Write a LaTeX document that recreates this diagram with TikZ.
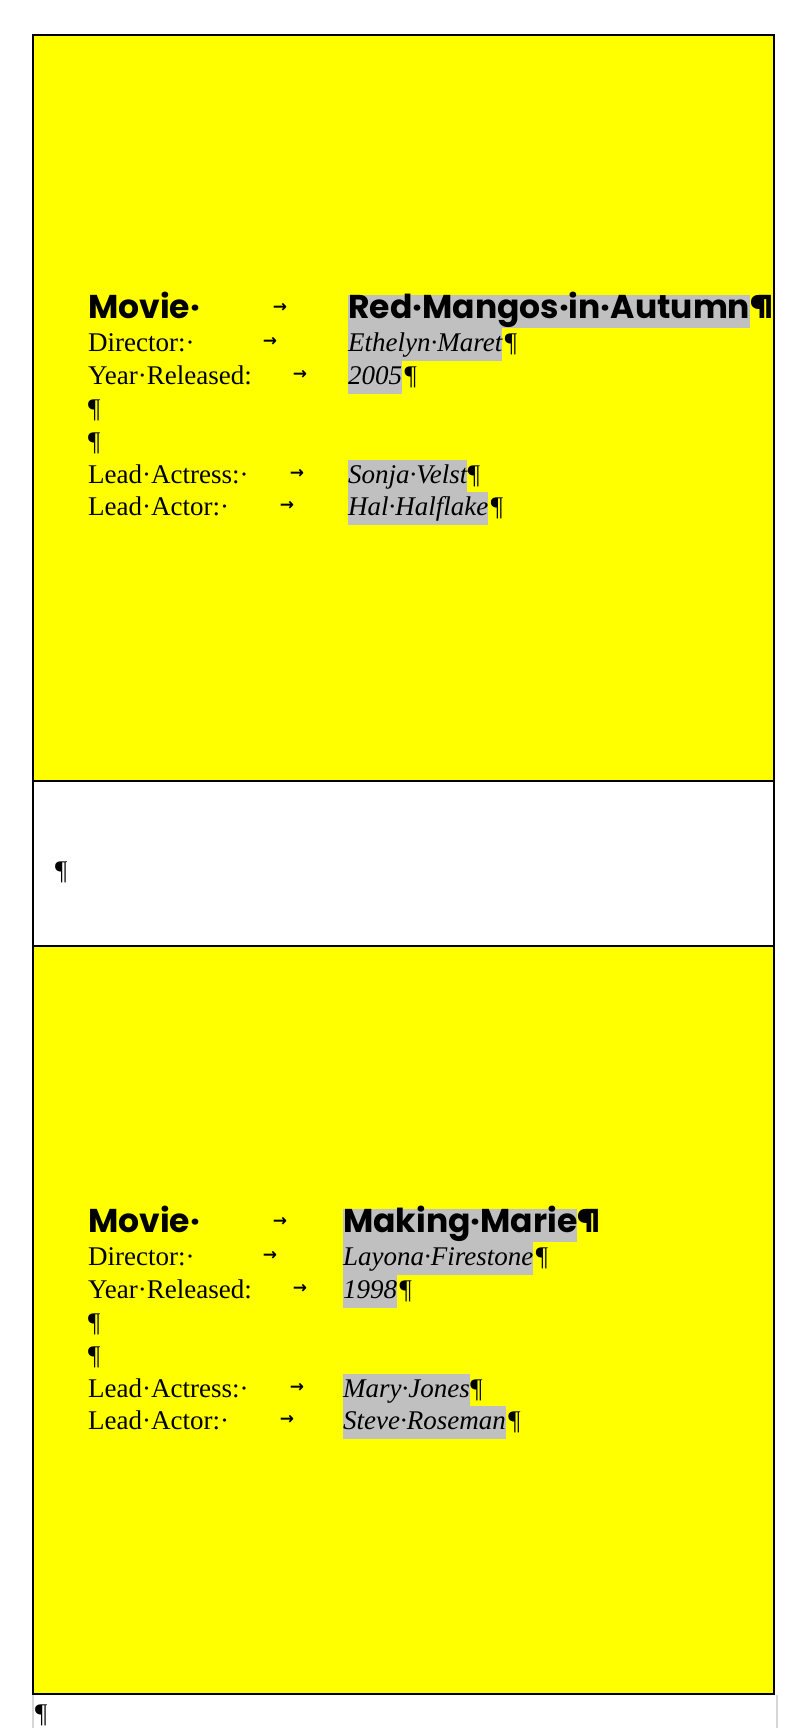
\documentclass[tikz,border=0pt]{standalone}
\usepackage{fontspec}
\setmainfont{Liberation Serif}
\newfontfamily\headfont{Poppins}
\newfontfamily\arrowfont{DejaVu Sans}
\definecolor{hl}{RGB}{192,192,192}
\definecolor{cellyellow}{RGB}{255,255,0}
\definecolor{faint}{RGB}{215,215,215}

\tikzset{
  lbl/.style={anchor=base west, inner sep=0pt, font=\fontsize{27}{32}\selectfont},
  head/.style={anchor=base west, inner sep=0pt, font=\headfont\bfseries\fontsize{33}{40}\selectfont},
  headval/.style={head, fill=hl, text height=23pt, text depth=10pt},
  val/.style={anchor=base west, inner sep=0pt, fill=hl, text height=23pt, text depth=10pt, font=\itshape\fontsize{27}{32}\selectfont},
  pil/.style={anchor=base west, inner sep=0pt, font=\fontsize{27}{32}\selectfont},
  tabmark/.style={inner sep=0pt, font=\arrowfont\bfseries\fontsize{17}{18}\selectfont},
  rule/.style={line width=2.5pt, black},
}

% #1 prefix, #2 yshift, #3 title, #4 director, #5 year, #6 actress, #7 actor, #8 value x
\newcommand\movieblock[8]{%
\begin{scope}[yshift=#2]
  \node[head] (#1m) at (88,318) {Movie·};
  \node[tabmark] (#1ma) at (280,308) {→};
  \node[headval] (#1t) at (#8,318) {#3};
  \node[head] (#1tp) at (#1t.base east) {¶};
  \node[lbl] (#1d) at (88,351) {Director:·};
  \node[tabmark] (#1da) at (270,342) {→};
  \node[val] (#1dv) at (#8,351) {#4};
  \node[pil, xshift=2pt] (#1dp) at (#1dv.base east) {¶};
  \node[lbl] (#1y) at (88,384) {Year·Released:};
  \node[tabmark] (#1ya) at (300,375) {→};
  \node[val] (#1yv) at (#8,384) {#5};
  \node[pil, xshift=2pt] (#1yp) at (#1yv.base east) {¶};
  \node[pil] (#1e1) at (88,417) {¶};
  \node[pil] (#1e2) at (88,450) {¶};
  \node[lbl] (#1s) at (88,483) {Lead·Actress:·};
  \node[tabmark] (#1sa) at (297,474) {→};
  \node[val] (#1sv) at (#8,483) {#6};
  \node[pil] (#1sp) at (#1sv.base east) {¶};
  \node[lbl] (#1r) at (88,515) {Lead·Actor:·};
  \node[tabmark] (#1ra) at (287,506) {→};
  \node[val] (#1rv) at (#8,515) {#7};
  \node[pil, xshift=2pt] (#1rp) at (#1rv.base east) {¶};
\end{scope}}

\begin{document}
\begin{tikzpicture}[x=1pt,y=-1pt]
  \useasboundingbox (0,0) rectangle (800,1728);
  \fill[white] (0,0) rectangle (800,1728);
  % table cells
  \fill[cellyellow] (33,35) rectangle (774,781);
  \fill[cellyellow] (33,946) rectangle (774,1694);
  \draw[rule] (33,35) rectangle (774,1694);
  \draw[rule] (33,781) -- (774,781);
  \draw[rule] (33,946) -- (774,946);
  \draw[faint, line width=1.5pt] (33,1695) -- (33,1728);
  \draw[faint, line width=1.5pt] (777,1695) -- (777,1728);

  \movieblock{A}{0pt}{Red·Mangos·in·Autumn}{Ethelyn·Maret}{2005}{Sonja·Velst}{Hal·Halflake}{348}
  \movieblock{B}{-914pt}{Making·Marie}{Layona·Firestone}{1998}{Mary·Jones}{Steve·Roseman}{343}

  \node[pil] (mid) at (55,879) {¶};
  \node[pil] (endp) at (35,1722) {¶};
\end{tikzpicture}
\end{document}
